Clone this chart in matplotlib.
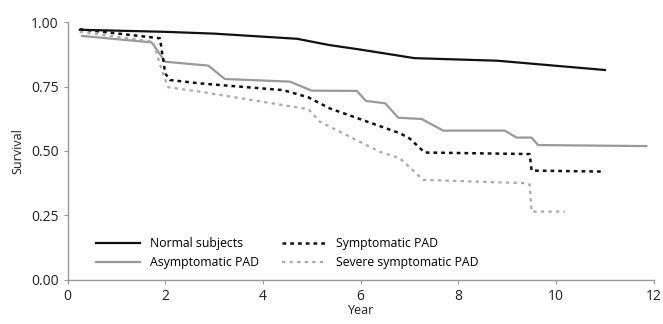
import matplotlib.pyplot as plt

plt.rcParams['font.family'] = ['Open Sans', 'DejaVu Sans']

# --- data ---
normal_x = [0.25, 2.0, 3.0, 4.7, 5.35, 6.0, 7.1, 8.8, 11.0]
normal_y = [0.970, 0.962, 0.955, 0.935, 0.911, 0.893, 0.860, 0.850, 0.814]

asym_x = [0.3, 1.72, 2.0, 2.88, 3.22, 4.55, 5.0, 5.92, 6.11, 6.5, 6.77, 7.25, 7.69, 8.95, 9.19, 9.5, 9.63, 11.85]
asym_y = [0.946, 0.921, 0.846, 0.831, 0.779, 0.769, 0.734, 0.733, 0.694, 0.685, 0.629, 0.624, 0.579, 0.579, 0.552, 0.552, 0.523, 0.519]

sym_x = [0.25, 1.89, 2.0, 2.1, 2.71, 4.41, 4.93, 5.1, 5.37, 6.8, 7.0, 7.31, 9.46, 9.5, 11.0]
sym_y = [0.972, 0.937, 0.800, 0.775, 0.762, 0.736, 0.708, 0.691, 0.665, 0.569, 0.549, 0.494, 0.488, 0.424, 0.420]

severe_x = [0.25, 1.75, 1.95, 2.06, 2.71, 4.93, 5.16, 5.37, 6.39, 6.8, 7.28, 9.4, 9.46, 9.5, 10.18]
severe_y = [0.962, 0.924, 0.800, 0.747, 0.730, 0.662, 0.614, 0.594, 0.497, 0.472, 0.388, 0.375, 0.370, 0.265, 0.265]

labels = ['Normal subjects', 'Asymptomatic PAD', 'Symptomatic PAD', 'Severe symptomatic PAD']
x_ticks = [0, 2, 4, 6, 8, 10, 12]
y_ticks = [0.0, 0.25, 0.5, 0.75, 1.0]

fig = plt.figure(figsize=(6.63, 3.24), dpi=100)
ax = fig.add_axes([0.102, 0.136, 0.884, 0.796])

ax.plot(normal_x, normal_y, color='#111111', lw=1.6, label=labels[0])
ax.plot(asym_x, asym_y, color='#999999', lw=1.6, label=labels[1])
ax.plot(sym_x, sym_y, color='#111111', lw=1.8, ls=(0, (1.5, 1.6)), label=labels[2])
ax.plot(severe_x, severe_y, color='#aaaaaa', lw=1.6, ls=(0, (1.5, 1.9)), label=labels[3])

ax.set_xlim(0, 12)
ax.set_ylim(0, 1.0)
ax.set_xticks(x_ticks)
ax.set_xticklabels([str(t) for t in x_ticks])
ax.set_yticks(y_ticks)
ax.set_yticklabels(['%.2f' % t for t in y_ticks])

for s in ['top', 'right']:
    ax.spines[s].set_visible(False)
for s in ['left', 'bottom']:
    ax.spines[s].set_color('#999999')
    ax.spines[s].set_linewidth(1.0)
ax.tick_params(colors='#999999', labelcolor='#222222', labelsize=10, length=3, width=0.8)

ax.set_xlabel('Year', fontsize=9, color='#222222', labelpad=0)
ax.set_ylabel('Survival', fontsize=9, color='#222222', labelpad=5)

handles, _ = ax.get_legend_handles_labels()
ax.legend(handles, labels, ncol=2,
          loc='lower left', bbox_to_anchor=(0.03, 0.0), frameon=False,
          fontsize=8.8, handlelength=3.6, handletextpad=0.8, columnspacing=1.9,
          labelspacing=0.45)

fig.savefig('out.png', dpi=100)
